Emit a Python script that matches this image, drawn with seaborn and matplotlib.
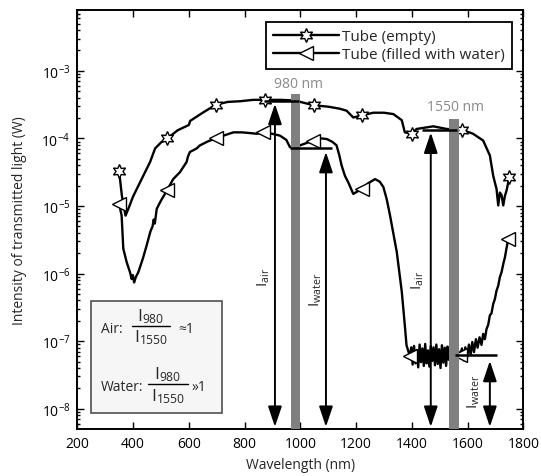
import matplotlib
matplotlib.use("Agg")
import numpy as np
import pandas as pd
import matplotlib.pyplot as plt
import seaborn as sns
from matplotlib.patches import Rectangle
from matplotlib.lines import Line2D
from matplotlib.ticker import LogLocator, NullFormatter, FixedLocator

# ---------------- data ----------------
empty_wl = [350, 360, 373, 385, 400, 425, 461, 479, 500, 523, 560, 600, 605, 650, 697,
            740, 784, 830, 873, 930, 987, 1000, 1049, 1100, 1142, 1166, 1190, 1220, 1262,
            1300, 1334, 1364, 1375, 1399, 1417, 1477, 1525, 1579, 1620, 1656, 1680, 1692,
            1704, 1710, 1716, 1722, 1728, 1734, 1740, 1750]
empty_I = [3.24e-5, 1.41e-5, 7.2e-6, 9.5e-6, 1.38e-5, 2.24e-5, 4.47e-5, 7.1e-5, 8.7e-5, 1.0e-4,
           1.32e-4, 1.58e-4, 1.82e-4, 2.4e-4, 3.16e-4, 3.47e-4, 3.55e-4, 3.72e-4, 3.72e-4, 3.72e-4,
           3.63e-4, 3.47e-4, 3.09e-4, 2.95e-4, 2.75e-4, 2.57e-4, 2.04e-4, 2.19e-4, 2.4e-4, 2.4e-4,
           2.29e-4, 1.86e-4, 1.23e-4, 1.17e-4, 1.38e-4, 1.51e-4, 1.38e-4, 1.35e-4, 1.17e-4, 9.3e-5,
           5.6e-5, 2.8e-5, 1.78e-5, 1.02e-5, 1.58e-5, 1.45e-5, 1.02e-5, 1.41e-5, 1.7e-5, 2.7e-5]
empty_marker_wl = [350, 523, 697, 873, 1049, 1220, 1399, 1579, 1750]

water_wl = [350, 359, 365, 377, 389, 395, 399, 404, 410, 419, 435, 449, 462, 470, 474, 478,
            485, 500, 523, 544, 568, 592, 597, 604, 628, 640, 670, 696, 730, 760, 790, 820,
            845, 867, 900, 927, 950, 963, 985, 999, 1047, 1075, 1095, 1115, 1130, 1140, 1148,
            1160, 1172, 1190, 1220, 1245, 1268, 1285, 1298, 1310, 1322, 1346, 1364, 1375, 1381,
            1393, 1398, 1403, 1408, 1413, 1418, 1423, 1428, 1433, 1438, 1443, 1448, 1453, 1458,
            1463, 1468, 1473, 1478, 1483, 1488, 1493, 1498, 1503, 1508, 1513, 1518, 1523, 1528,
            1533, 1540, 1546, 1552, 1558, 1565, 1573, 1580, 1586, 1592, 1598, 1605, 1611, 1617,
            1623, 1630, 1636, 1643, 1650, 1656, 1662, 1668, 1674, 1680, 1686, 1692, 1698, 1704,
            1710, 1716, 1722, 1728, 1734, 1740, 1746]
water_I = [1.07e-5, 7.2e-6, 2.34e-6, 1.48e-6, 1.05e-6, 8.3e-7, 9.5e-7, 7.4e-7, 8.9e-7, 1.05e-6,
           1.66e-6, 2.63e-6, 4.17e-6, 5.0e-6, 6.3e-6, 5.5e-6, 9.1e-6, 1.2e-5, 1.74e-5, 2.5e-5,
           3.16e-5, 4.47e-5, 5.4e-5, 6.3e-5, 7.1e-5, 7.9e-5, 9.1e-5, 1.0e-4, 1.12e-4, 1.23e-4,
           1.23e-4, 1.2e-4, 1.17e-4, 1.23e-4, 1.17e-4, 1.1e-4, 9.5e-5, 7.4e-5, 7.6e-5, 7.9e-5,
           9.3e-5, 1.0e-4, 9.8e-5, 8.9e-5, 7.9e-5, 5.6e-5, 4.0e-5, 2.8e-5, 2.24e-5, 1.51e-5,
           1.78e-5, 2.19e-5, 2.5e-5, 2.29e-5, 1.91e-5, 1.26e-5, 7.2e-6, 2.09e-6, 5.4e-7, 1.7e-7,
           8.7e-8, 6.0e-8, 8.1e-8, 4.5e-8, 8.5e-8, 4.7e-8, 7.4e-8, 4.1e-8, 8.9e-8, 4.9e-8,
           7.8e-8, 4.3e-8, 9.1e-8, 4.7e-8, 7.3e-8, 4.2e-8, 8.5e-8, 5.1e-8, 8.1e-8, 4.4e-8,
           8.9e-8, 4.6e-8, 7.6e-8, 4.0e-8, 8.7e-8, 4.8e-8, 8.0e-8, 4.3e-8, 8.3e-8, 5.3e-8,
           7.8e-8, 4.7e-8, 8.1e-8, 4.9e-8, 7.3e-8, 6.2e-8, 7.8e-8, 5.2e-8, 8.1e-8, 5.7e-8,
           8.9e-8, 6.3e-8, 9.7e-8, 6.9e-8, 1.07e-7, 8.0e-8, 1.14e-7, 8.8e-8, 1.28e-7, 1.07e-7,
           1.51e-7, 1.74e-7, 2.4e-7, 2.6e-7, 3.55e-7, 4.2e-7, 5.6e-7, 6.6e-7, 8.9e-7, 1.05e-6,
           1.38e-6, 1.74e-6, 2.4e-6, 3.24e-6]
water_marker_wl = [350, 523, 696, 867, 1047, 1220, 1393, 1573, 1746]

series_labels = ["Tube (empty)", "Tube (filled with water)"]

# highlighted laser lines (gray bars)
bar_wl = [982, 1552]
bar_top = [4.6e-4, 1.95e-4]
bar_labels = ["980 nm", "1550 nm"]
bar_label_pos = [(993, 6.6e-4), (1558, 2.98e-4)]

# reference levels (horizontal lines)
level_y = [3.6e-4, 7.2e-5, 1.35e-4, 6.2e-8]
level_x0 = [870, 963, 1435, 1555]
level_x1 = [995, 1113, 1561, 1704]

# double arrows
arrow_x = [909, 1092, 1468, 1680]
arrow_bottom = [5.4e-9, 5.4e-9, 5.4e-9, 5.4e-9]
arrow_top = [3.25e-4, 6.3e-5, 1.22e-4, 5.1e-8]
arrow_labels = [r"$\mathrm{I}_{\mathrm{air}}$", r"$\mathrm{I}_{\mathrm{water}}$",
                r"$\mathrm{I}_{\mathrm{air}}$", r"$\mathrm{I}_{\mathrm{water}}$"]
arrow_label_x = [868, 1056, 1422, 1623]
arrow_label_y = [9.0e-7, 6.0e-7, 8.1e-7, 1.86e-8]

# inset ratio box
ratio_names = ["Air:", "Water:"]
ratio_signs = ["≈1", "»1"]
ratio_num = r"$\mathrm{I}_{980}$"
ratio_den = r"$\mathrm{I}_{1550}$"

x_ticks = [200, 400, 600, 800, 1000, 1200, 1400, 1600, 1800]
y_ticks = [1e-8, 1e-7, 1e-6, 1e-5, 1e-4, 1e-3]

# ---------------- style ----------------
sns.set_theme(style="ticks")
plt.rcParams['font.family'] = ['Open Sans', 'DejaVu Sans']
plt.rcParams['mathtext.fontset'] = 'custom'
plt.rcParams['mathtext.rm'] = 'Open Sans'
plt.rcParams['mathtext.it'] = 'Open Sans:italic'
plt.rcParams['mathtext.bf'] = 'Open Sans:bold'
plt.rcParams['font.size'] = 10

fig = plt.figure(figsize=(5.41, 4.77), dpi=100)
ax = fig.add_axes([0.1429, 0.0985, 0.8244, 0.8784])

empty_df = pd.DataFrame({"wl": empty_wl, "I": empty_I})
water_df = pd.DataFrame({"wl": water_wl, "I": water_I})
empty_idx = [empty_wl.index(m) for m in empty_marker_wl]
water_idx = [water_wl.index(m) for m in water_marker_wl]

sns.lineplot(data=empty_df, x="wl", y="I", ax=ax, sort=False, estimator=None,
             color="black", lw=1.7, marker=(6, 1, 0), markevery=empty_idx, ms=10,
             mfc="white", mec="black", mew=1.0, label=series_labels[0], zorder=3)
sns.lineplot(data=water_df, x="wl", y="I", ax=ax, sort=False, estimator=None,
             color="black", lw=1.7, marker="<", markevery=water_idx, ms=10,
             mfc="white", mec="black", mew=1.0, label=series_labels[1], zorder=3)

ax.set_yscale("log")

# gray bars
ax.bar(bar_wl, [t - 1e-10 for t in bar_top], bottom=1e-10, width=34,
       color="#808080", edgecolor="none", zorder=4)
for lab, (bx, by) in zip(bar_labels, bar_label_pos):
    ax.text(bx, by, lab, color="#8a8a8a", ha="center", va="center", fontsize=10, zorder=6)

# level lines
ax.hlines(level_y, level_x0, level_x1, colors="black", lw=1.8, zorder=5)

# arrows
for xa, yb, yt in zip(arrow_x, arrow_bottom, arrow_top):
    ax.annotate("", xy=(xa, yt), xytext=(xa, yb),
                arrowprops=dict(arrowstyle="<|-|>,head_length=1.25,head_width=0.42",
                                mutation_scale=10, color="black", lw=1.4,
                                shrinkA=0, shrinkB=0), zorder=5)
for lab, lx, ly in zip(arrow_labels, arrow_label_x, arrow_label_y):
    ax.text(lx, ly, lab, rotation=90, ha="center", va="center", fontsize=11, zorder=6)

# inset box with ratios
ax.add_patch(Rectangle((0.030, 0.038), 0.295, 0.267, transform=ax.transAxes,
                       facecolor="#f6f6f6", edgecolor="#505050", lw=1.2, zorder=6))
row_y = [0.239, 0.101]
bar_y = [0.247, 0.108]
frac_x0 = [0.122, 0.1585]
frac_x1 = [0.208, 0.248]
sign_x = [0.226, 0.257]
for name, sign, ry, by, fx0, fx1, sx in zip(ratio_names, ratio_signs, row_y, bar_y,
                                            frac_x0, frac_x1, sign_x):
    ax.text(0.0525, ry, name, transform=ax.transAxes, ha="left", va="center",
            fontsize=10, zorder=7)
    ax.add_line(Line2D([fx0, fx1], [by, by], transform=ax.transAxes, color="black",
                       lw=1.0, zorder=7))
    cx = (fx0 + fx1) / 2
    ax.annotate(ratio_num, xy=(cx, by), xycoords="axes fraction",
                xytext=(0, 0.5), textcoords="offset points", ha="center", va="bottom",
                fontsize=12.5, zorder=7)
    ax.annotate(ratio_den, xy=(cx, by), xycoords="axes fraction",
                xytext=(0, -1.5), textcoords="offset points", ha="center", va="top",
                fontsize=12.5, zorder=7)
    ax.text(sx, ry, sign, transform=ax.transAxes, ha="left", va="center",
            fontsize=10, zorder=7)

# legend
leg = ax.legend(loc="upper right", bbox_to_anchor=(0.974, 0.971), frameon=True,
                fancybox=False, edgecolor="black", framealpha=1, fontsize=11,
                handlelength=4.3, borderpad=0.45, labelspacing=0.22, handletextpad=0.2,
                borderaxespad=0)
leg.get_frame().set_linewidth(1.3)
leg.set_zorder(8)

# ticks / axes
ax.set_xlim(200, 1800)
ax.set_ylim(10 ** -8.3, 10 ** -2.1)
ax.xaxis.set_major_locator(FixedLocator(x_ticks))
ax.yaxis.set_major_locator(FixedLocator(y_ticks))
ax.yaxis.set_minor_locator(LogLocator(base=10, subs=np.arange(2, 10)))
ax.yaxis.set_minor_formatter(NullFormatter())
ax.tick_params(which="both", direction="in", top=True, right=True, width=1.0,
               colors="black", labelsize=10)
ax.tick_params(which="major", length=5, pad=5)
ax.tick_params(which="minor", length=2.5)
for s in ax.spines.values():
    s.set_linewidth(1.4)
    s.set_color("black")

ax.set_xlabel("Wavelength (nm)", fontsize=10)
ax.set_ylabel("Intensity of transmitted light (W)", fontsize=10)
ax.xaxis.set_label_coords(0.5, -0.066)
ax.yaxis.set_label_coords(-0.112, 0.5)
ax.grid(False)

fig.savefig("out.png", dpi=100)
